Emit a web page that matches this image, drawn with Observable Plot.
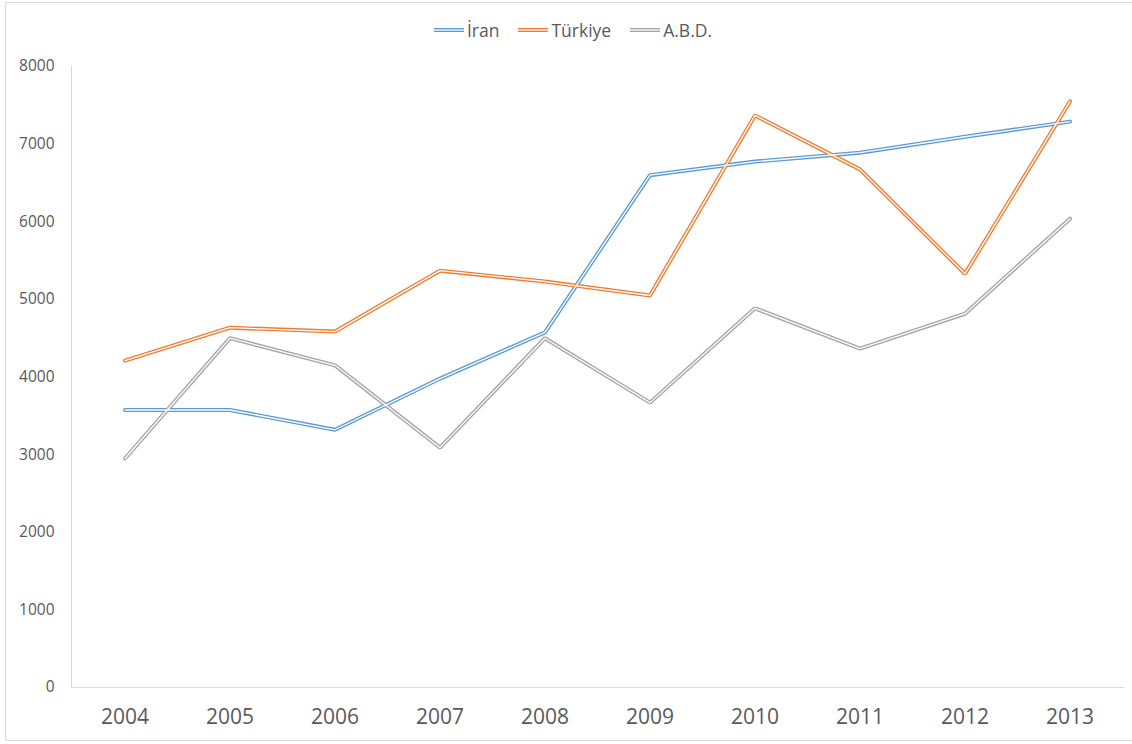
<!DOCTYPE html>
<html>
<head>
<meta charset="utf-8">
<script src="https://cdn.jsdelivr.net/npm/d3@7"></script>
<script src="https://cdn.jsdelivr.net/npm/@observablehq/plot@0.6"></script>
<style>
  html, body { margin: 0; padding: 0; background: #fff; overflow: hidden; }
  body { width: 1132px; height: 744px; position: relative; font-family: "Open Sans", "Noto Sans", sans-serif; }
  #frame { position: absolute; left: 5px; top: 2px; width: 1140px; height: 739px; border: 1px solid #d9d9d9; border-right: none; box-sizing: border-box; }
  #legend { position: absolute; left: 0; top: 0; width: 1132px; height: 60px; display: flex; justify-content: center; align-items: center; gap: 19px; padding-left: 14px; box-sizing: border-box; }
  .item { display: flex; align-items: center; font-size: 17.5px; color: #595959; }
  .item svg { margin-right: 3px; }
  #chart { position: absolute; left: 0; top: 50px; }
</style>
</head>
<body>
<div id="frame"></div>
<div id="legend"></div>
<div id="chart"></div>
<script>
const years = ["2004","2005","2006","2007","2008","2009","2010","2011","2012","2013"];
const seriesNames = ["İran", "Türkiye", "A.B.D."];
const iran    = [3575, 3575, 3320, 3980, 4575, 6600, 6775, 6890, 7095, 7290];
const turkiye = [4210, 4635, 4585, 5370, 5230, 5050, 7370, 6675, 5330, 7550];
const abd     = [2950, 4500, 4150, 3090, 4500, 3670, 4885, 4365, 4815, 6040];
const yTicks  = [0, 1000, 2000, 3000, 4000, 5000, 6000, 7000, 8000];
const colors  = ["#5b9bd5", "#ed7d31", "#a5a5a5"];

const valuesBySeries = [iran, turkiye, abd];
const data = [];
seriesNames.forEach((s, i) => years.forEach((y, j) => data.push({series: s, year: y, value: valuesBySeries[i][j]})));

// legend
const legend = document.getElementById("legend");
seriesNames.forEach((s, i) => {
  const it = document.createElement("div");
  it.className = "item";
  it.innerHTML = `<svg width="30" height="8"><line x1="0" x2="30" y1="4" y2="4" stroke="${colors[i]}" stroke-width="4"/><line x1="0" x2="30" y1="4" y2="4" stroke="#fff" stroke-width="1.3"/></svg><span>${s}</span>`;
  legend.appendChild(it);
});

const chart = Plot.plot({
  width: 1132,
  height: 694,
  marginLeft: 71,
  marginRight: 9,
  marginTop: 16,
  marginBottom: 57,
  style: { fontFamily: "'Open Sans', 'Noto Sans', sans-serif", color: "#595959", background: "transparent" },
  x: { type: "band", domain: years, padding: 0, label: null },
  y: { domain: [0, 8000], ticks: yTicks, label: null },
  color: { domain: seriesNames, range: colors },
  marks: [
    Plot.frame({anchor: "left", stroke: "#d9d9d9"}),
    Plot.frame({anchor: "bottom", stroke: "#d9d9d9"}),
    Plot.axisY({ticks: yTicks, tickSize: 0, tickPadding: 17, fontSize: 15.5, tickFormat: d => String(d), label: null}),
    Plot.axisX({tickSize: 0, tickPadding: 22, fontSize: 21, label: null}),
    Plot.line(data, {x: "year", y: "value", z: "series", stroke: "series", strokeWidth: 4, strokeLinejoin: "miter", curve: "linear"}),
    Plot.line(data, {x: "year", y: "value", z: "series", stroke: "#fff", strokeWidth: 1.3, strokeLinejoin: "miter", curve: "linear"})
  ]
});
document.getElementById("chart").appendChild(chart);
</script>
</body>
</html>
